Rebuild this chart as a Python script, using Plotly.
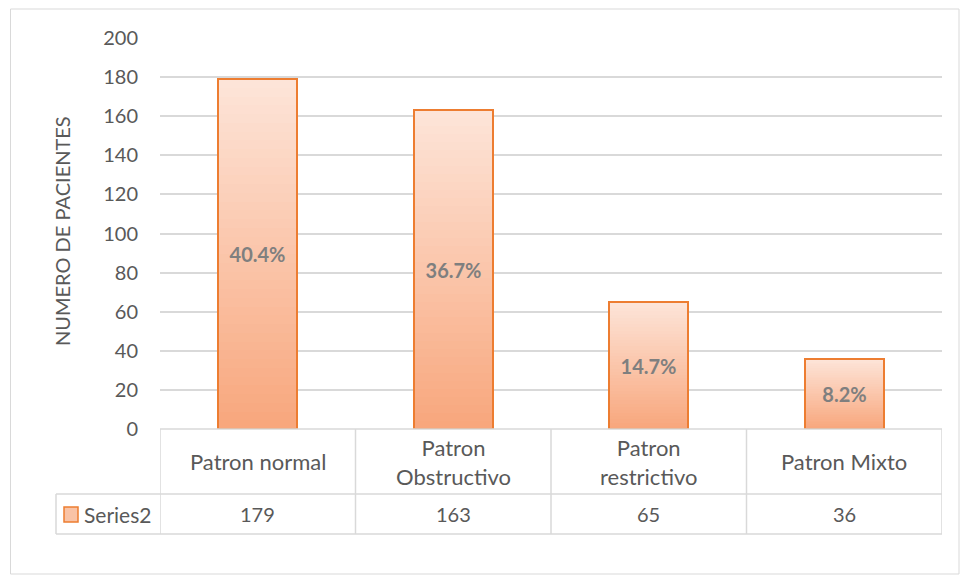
import plotly.graph_objects as go

# Spirometry pattern counts
categories = ["Patron normal", "Patron<br>Obstructivo", "Patron<br>restrictivo", "Patron Mixto"]
patients = [179, 163, 65, 36]
pct_labels = ["40.4%", "36.7%", "14.7%", "8.2%"]
series_name = "Series2"

FONT = "Lato"
GRAY_TXT = "#595959"
GRID = "#d9d9d9"
ORANGE = "#ed7d31"
TOP_RGB = (253, 229, 217)
BOT_RGB = (248, 166, 124)
BAR_W = 0.405
STEPS = 40

fig = go.Figure()

# Vertical gradient fill: stacked slices of each bar, dark at the bottom
for i in range(STEPS):
    t = (i + 0.5) / STEPS
    r, g, b = (round(BOT_RGB[k] + (TOP_RGB[k] - BOT_RGB[k]) * t) for k in range(3))
    fig.add_trace(go.Bar(
        x=list(range(len(patients))),
        y=[v / STEPS for v in patients],
        base=[v * i / STEPS for v in patients],
        width=BAR_W,
        marker=dict(color=f"rgb({r},{g},{b})", line=dict(width=0)),
        hoverinfo="skip",
        showlegend=False,
    ))

# Outline and percentage labels
fig.add_trace(go.Bar(
    x=list(range(len(patients))),
    y=patients,
    width=BAR_W,
    marker=dict(color="rgba(0,0,0,0)", line=dict(color=ORANGE, width=2)),
    text=pct_labels,
    textposition="inside",
    insidetextanchor="middle",
    textangle=0,
    textfont=dict(family=FONT, size=20, color="#7f7f7f", weight="bold"),
    showlegend=False,
    name=series_name,
))

shapes = []
line_style = dict(color=GRID, width=1.5)

def py(v):
    # pixel row -> paper y (plot area spans rows 38..429)
    return (429 - v) / 391

row1_bot = py(494)
row2_bot = py(534)
left_col = (56 - 160) / 782

# data table grid
shapes.append(dict(type="line", xref="x", yref="paper", x0=-0.5, x1=3.5, y0=0, y1=0, line=line_style))
for yy in (row1_bot, row2_bot):
    shapes.append(dict(type="line", xref="paper", yref="paper", x0=left_col, x1=1, y0=yy, y1=yy, line=line_style))
for xx in (-0.5, 0.5, 1.5, 2.5, 3.5):
    shapes.append(dict(type="line", xref="x", yref="paper", x0=xx, x1=xx, y0=0, y1=row2_bot, line=line_style))
shapes.append(dict(type="line", xref="paper", yref="paper", x0=left_col, x1=left_col, y0=row1_bot, y1=row2_bot, line=line_style))

# legend key square
kx0 = (64 - 160) / 782
kx1 = (78 - 160) / 782
shapes.append(dict(type="rect", xref="paper", yref="paper", x0=kx0, x1=kx1, y0=py(522), y1=py(507),
                   fillcolor="#f9c3a6", line=dict(color=ORANGE, width=1.5)))

# chart frame
shapes.append(dict(type="rect", xref="paper", yref="paper",
                   x0=(10.5 - 160) / 782, x1=(959 - 160) / 782, y0=py(574), y1=py(9),
                   line=dict(color=GRID, width=1), fillcolor="rgba(0,0,0,0)", layer="below"))

annotations = []
for i, c in enumerate(categories):
    annotations.append(dict(x=i, y=(0 + row1_bot) / 2, xref="x", yref="paper", text=c, showarrow=False,
                            font=dict(family=FONT, size=22, color=GRAY_TXT), yanchor="middle"))
    annotations.append(dict(x=i, y=(row1_bot + row2_bot) / 2, xref="x", yref="paper", text=str(patients[i]),
                            showarrow=False, font=dict(family=FONT, size=20, color=GRAY_TXT), yanchor="middle"))
annotations.append(dict(x=(82 - 160) / 782, y=(row1_bot + row2_bot) / 2, xref="paper", yref="paper",
                        text=series_name, showarrow=False, xanchor="left", yanchor="middle",
                        font=dict(family=FONT, size=21, color=GRAY_TXT)))
annotations.append(dict(x=(62 - 160) / 782, y=py(231), xref="paper", yref="paper", text="NUMERO DE PACIENTES",
                        showarrow=False, textangle=-90, xanchor="center", yanchor="middle",
                        font=dict(family=FONT, size=20, color=GRAY_TXT)))

fig.update_layout(
    width=960, height=578,
    margin=dict(l=160, r=18, t=38, b=149),
    paper_bgcolor="white", plot_bgcolor="white",
    barmode="overlay",
    bargap=0,
    xaxis=dict(range=[-0.5, 3.5], showticklabels=False, showgrid=False, zeroline=False, showline=False, fixedrange=True),
    yaxis=dict(range=[0, 200], dtick=20, showgrid=True, gridcolor=GRID, gridwidth=1.5, zeroline=False,
               showline=False, ticks="", ticklabelstandoff=21,
               tickfont=dict(family=FONT, size=20, color=GRAY_TXT)),
    shapes=shapes,
    annotations=annotations,
    showlegend=False,
)

fig.write_html("out.html")
